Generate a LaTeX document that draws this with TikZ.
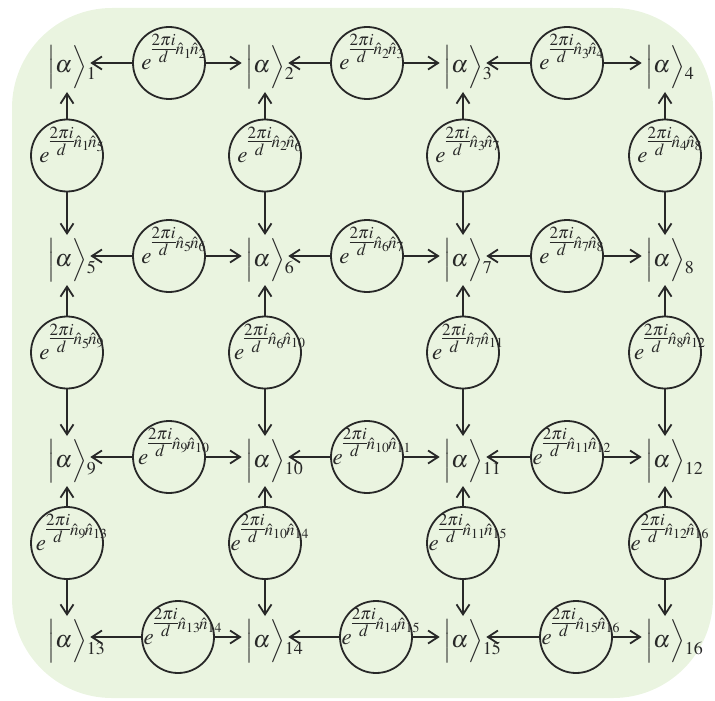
\documentclass[tikz,border=0pt]{standalone}
\usepackage{amsmath}
\usepackage{mathptmx}
\usepackage{tikz}
\usepackage{xcolor}
\usetikzlibrary{positioning, calc, arrows.meta}

\definecolor{PanelGreen}{RGB}{234,244,224}
\definecolor{InkGray}{RGB}{40,40,40}

\newcommand{\phasefac}[2]{\makebox[0pt]{\kern5pt\raisebox{-3.5pt}[0pt][0pt]{\nulldelimiterspace=0pt$e\raisebox{7.5pt}{$\genfrac{}{}{}{1}{2\pi i}{d}\scriptstyle\hat{n}_{#1}\!\hat{n}_{#2}$}$}}}
\newcommand{\ketlab}[1]{$\Bigl|\alpha\Bigr\rangle$\rlap{\raisebox{-3.5pt}{$\scriptstyle #1$}}}

\begin{document}
\begin{tikzpicture}[x=0.5pt, y=-0.5pt,
  ket/.style={inner sep=1.5pt, font=\fontsize{12}{14}\selectfont, text=InkGray},
  phase/.style={circle, draw=InkGray, line width=0.9pt, minimum size=36pt, inner sep=0pt, font=\fontsize{11.5}{14}\selectfont, text=InkGray},
  link/.style={-{Straight Barb[length=5pt,width=6.5pt]}, line width=0.9pt, InkGray}
]
\useasboundingbox (0,0) rectangle (715,700);
\fill[PanelGreen, rounded corners=50pt] (12,8) rectangle (713,698);

% kets
\foreach \y [count=\r] in {67,260,461,641}
  \foreach \x [count=\c] in {67,265,463,665} {
    \pgfmathtruncatemacro\k{4*(\r-1)+\c}
    \node[ket] (k\k) at (\x,\y) {\ketlab{\k}};
  }

% horizontal couplings
\foreach \r in {1,...,4}
  \foreach \c in {1,2,3} {
    \pgfmathtruncatemacro\a{4*(\r-1)+\c}
    \pgfmathtruncatemacro\b{\a+1}
    \pgfmathsetmacro\dx{ifthenelse(\r==4,12,3)}
    \node[phase] (h\a) at ($(k\a)!0.5!(k\b)+(\dx,-4)$) {\phasefac{\a}{\b}};
    \draw[link] (h\a) -- (h\a -| k\a.east);
    \draw[link] (h\a) -- (h\a -| k\b.west);
  }

% vertical couplings
\foreach \r in {1,2,3}
  \foreach \c in {1,...,4} {
    \pgfmathtruncatemacro\a{4*(\r-1)+\c}
    \pgfmathtruncatemacro\b{\a+4}
    \node[phase] (v\a) at ($(k\a)!0.5!(k\b)+(0,-8)$) {\phasefac{\a}{\b}};
    \draw[link] (v\a) -- (k\a);
    \draw[link] (v\a) -- (k\b);
  }
\end{tikzpicture}
\end{document}
